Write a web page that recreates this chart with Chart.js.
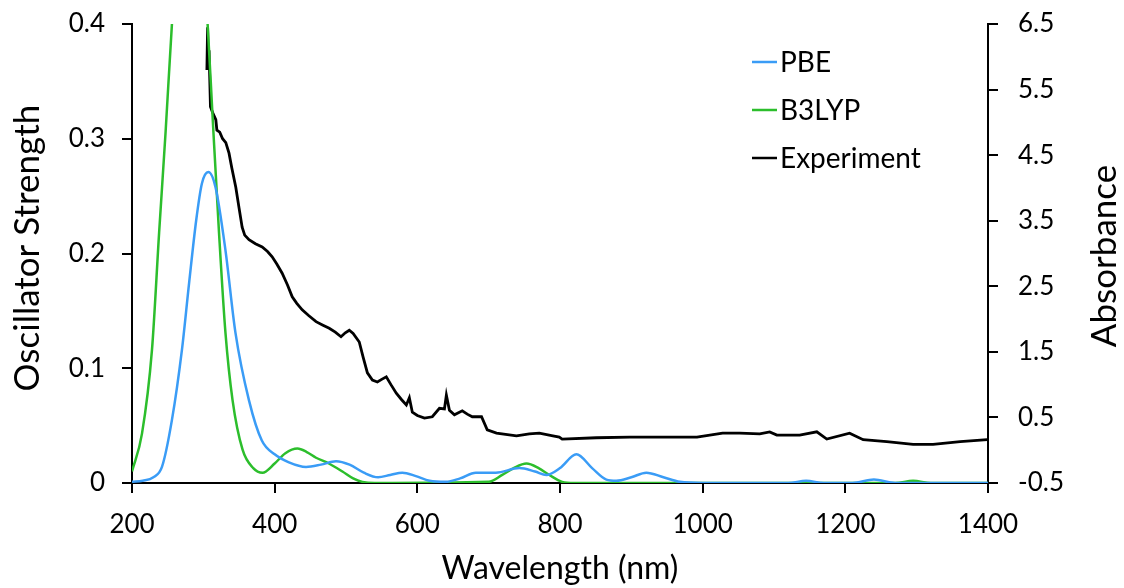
<!DOCTYPE html>
<html>
<head>
<meta charset="utf-8">
<script src="https://cdn.jsdelivr.net/npm/chart.js@4.4.1/dist/chart.umd.min.js"></script>
<style>
html,body{margin:0;padding:0;background:#fff;}
#wrap{width:1124px;height:588px;position:relative;}
</style>
</head>
<body>
<div id="wrap"><canvas id="c" width="1124" height="588"></canvas></div>
<script>
// ---- Data ----
const pbeWavelength = [200,215,230,242,256,270,280,290,298,307,317,331,345,364,382,400,420,444,465,486,505,525,545,562,579,598,617,640,660,682,710,743,765,781,800,823,845,865,879,900,921,945,968,1000,1120,1145,1170,1210,1240,1270,1400];
const pbeStrength   = [0.001,0.002,0.005,0.014,0.055,0.116,0.174,0.229,0.261,0.271,0.258,0.203,0.131,0.072,0.037,0.025,0.018,0.014,0.016,0.019,0.016,0.009,0.005,0.007,0.009,0.006,0.002,0.001,0.004,0.009,0.009,0.013,0.010,0.007,0.013,0.025,0.013,0.003,0.002,0.005,0.009,0.005,0.001,0,0,0.002,0,0,0.003,0,0];

const b3lypWavelength = [200,214,228,238,247,256,268,281,294,306,313,322,331,341,355,370,383,400,415,432,445,458,476,495,510,523,540,700,719,735,753,770,785,803,820,1270,1295,1320,1400];
const b3lypStrength   = [0.010,0.043,0.116,0.218,0.305,0.40,0.50,0.55,0.50,0.40,0.319,0.218,0.131,0.072,0.029,0.013,0.009,0.017,0.026,0.030,0.027,0.022,0.017,0.010,0.004,0.001,0,0.001,0.007,0.013,0.017,0.013,0.007,0.001,0,0,0.002,0,0];

const expWavelength = [305,306,307,308,310,313,317.5,319,323,327,331.5,336,340,345.5,350,354.4,358,364,373,382.5,390,396.5,403,410.5,418,424.6,431,438.6,448,458,467,476.5,485,493,499,504.6,510,518.6,524,530,537,544,550,556.5,563,570.5,578,584.6,588.8,593,600,610,621,631,638,640.7,645,652,663,670,677,690,698,711,739,757,771,790,799,803,851,898,944,992,1028,1052,1080,1094,1104,1136,1160,1174,1206,1225,1258,1295,1323,1361,1399];
const expAbsorbance = [5.8,6.45,5.9,6.1,5.24,5.15,5.04,4.88,4.85,4.75,4.69,4.53,4.3,4.01,3.7,3.40,3.28,3.21,3.15,3.10,3.03,2.95,2.84,2.70,2.52,2.34,2.24,2.14,2.05,1.96,1.91,1.86,1.80,1.73,1.79,1.83,1.78,1.65,1.42,1.18,1.07,1.04,1.08,1.12,1.00,0.87,0.77,0.69,0.80,0.58,0.53,0.49,0.51,0.64,0.63,0.84,0.61,0.54,0.60,0.55,0.51,0.51,0.31,0.26,0.22,0.25,0.26,0.22,0.20,0.17,0.19,0.20,0.20,0.20,0.26,0.26,0.25,0.28,0.23,0.23,0.28,0.17,0.26,0.16,0.13,0.09,0.09,0.13,0.16];

const xTicks = [200,400,600,800,1000,1200,1400];
const leftTicks = [0,0.1,0.2,0.3,0.4];
const leftTickLabels = ["0","0.1","0.2","0.3","0.4"];
const rightTicks = [-0.5,0.5,1.5,2.5,3.5,4.5,5.5,6.5];
const rightTickLabels = ["-0.5","0.5","1.5","2.5","3.5","4.5","5.5","6.5"];

const seriesLabels = ["PBE","B3LYP","Experiment"];
const xTitle = "Wavelength (nm)";
const leftTitle = "Oscillator Strength";
const rightTitle = "Absorbance";

// ---- Build ----
const toPts = (xs, ys) => xs.map((x,i)=>({x:x, y:ys[i]}));
const FONT = "Lato, 'Open Sans', 'Liberation Sans', sans-serif";

const legendPlugin = {
  id: 'customLegend',
  afterDatasetsDraw(chart){
    const ctx = chart.ctx;
    ctx.save();
    chart.data.datasets.forEach((ds,i)=>{
      const y = 62 + i*48;
      ctx.strokeStyle = ds.borderColor;
      ctx.lineWidth = 2.5;
      ctx.beginPath(); ctx.moveTo(752,y); ctx.lineTo(777,y); ctx.stroke();
      ctx.fillStyle = '#000';
      ctx.font = "28px " + FONT;
      ctx.textBaseline = 'middle';
      ctx.textAlign = 'left';
      ctx.fillText(ds.label, 780, y+1);
    });
    ctx.restore();
  }
};

const yTitlePlugin = {
  id: 'yTitles',
  afterDraw(chart){
    const ctx = chart.ctx;
    ctx.save();
    ctx.font = "35px " + FONT;
    ctx.fillStyle = '#000';
    ctx.textAlign = 'center';
    ctx.textBaseline = 'middle';
    [[28, 248, leftTitle], [1105, 256, rightTitle]].forEach(([x,y,t])=>{
      ctx.save(); ctx.translate(x,y); ctx.rotate(-Math.PI/2); ctx.fillText(t,0,0); ctx.restore();
    });
    ctx.restore();
  }
};

function setTicks(arr){ return function(scale){ scale.ticks = arr.map(v=>({value:v})); }; }
function fitV(w){ return function(s){ s.width = w; s.paddingTop = 0; s.paddingBottom = 0; }; }

new Chart(document.getElementById('c'), {
  type: 'line',
  data: {
    datasets: [
      {label: seriesLabels[0], data: toPts(pbeWavelength, pbeStrength), borderColor: '#3A9CF6', borderWidth: 2.5, pointRadius: 0, cubicInterpolationMode: 'monotone', yAxisID: 'y'},
      {label: seriesLabels[1], data: toPts(b3lypWavelength, b3lypStrength), borderColor: '#2CBE2C', borderWidth: 2.5, pointRadius: 0, cubicInterpolationMode: 'monotone', yAxisID: 'y'},
      {label: seriesLabels[2], data: toPts(expWavelength, expAbsorbance), borderColor: '#000000', borderWidth: 2.8, pointRadius: 0, tension: 0, yAxisID: 'yR'}
    ]
  },
  options: {
    responsive: false,
    animation: false,
    devicePixelRatio: 1,
    layout: {padding: {top: 24, left: 0, right: 0, bottom: 0}},
    plugins: {legend: {display: false}, tooltip: {enabled: false}},
    scales: {
      x: {
        type: 'linear', min: 200, max: 1400,
        afterBuildTicks: setTicks(xTicks),
        afterFit(s){ s.height = 105; s.paddingLeft = 0; s.paddingRight = 0; },
        grid: {display: true, drawOnChartArea: false, drawTicks: true, tickLength: 10, color: '#000', lineWidth: 2},
        border: {display: true, color: '#000', width: 2},
        ticks: {color: '#000', font: {family: FONT, size: 26}, padding: 16, maxRotation: 0, callback: v => String(v)},
        title: {display: true, text: xTitle, color: '#000', font: {family: FONT, size: 32}, padding: {top: 0, bottom: 0}}
      },
      y: {
        type: 'linear', position: 'left', min: 0, max: 0.4,
        afterBuildTicks: setTicks(leftTicks),
        afterFit: fitV(132),
        grid: {display: true, drawOnChartArea: false, drawTicks: true, tickLength: 10, color: '#000', lineWidth: 2},
        border: {display: true, color: '#000', width: 2},
        ticks: {color: '#000', font: {family: FONT, size: 26}, padding: 17, callback: (v) => leftTickLabels[leftTicks.findIndex(t=>Math.abs(t-v)<1e-9)]},
        title: {display: false}
      },
      yR: {
        type: 'linear', position: 'right', min: -0.5, max: 6.5,
        afterBuildTicks: setTicks(rightTicks),
        afterFit: fitV(136),
        grid: {display: true, drawOnChartArea: false, drawTicks: true, tickLength: 10, color: '#000', lineWidth: 2},
        border: {display: true, color: '#000', width: 2},
        ticks: {color: '#000', font: {family: FONT, size: 26}, padding: 20, callback: (v) => rightTickLabels[rightTicks.findIndex(t=>Math.abs(t-v)<1e-9)]},
        title: {display: false}
      }
    }
  },
  plugins: [legendPlugin, yTitlePlugin]
});
</script>
</body>
</html>
